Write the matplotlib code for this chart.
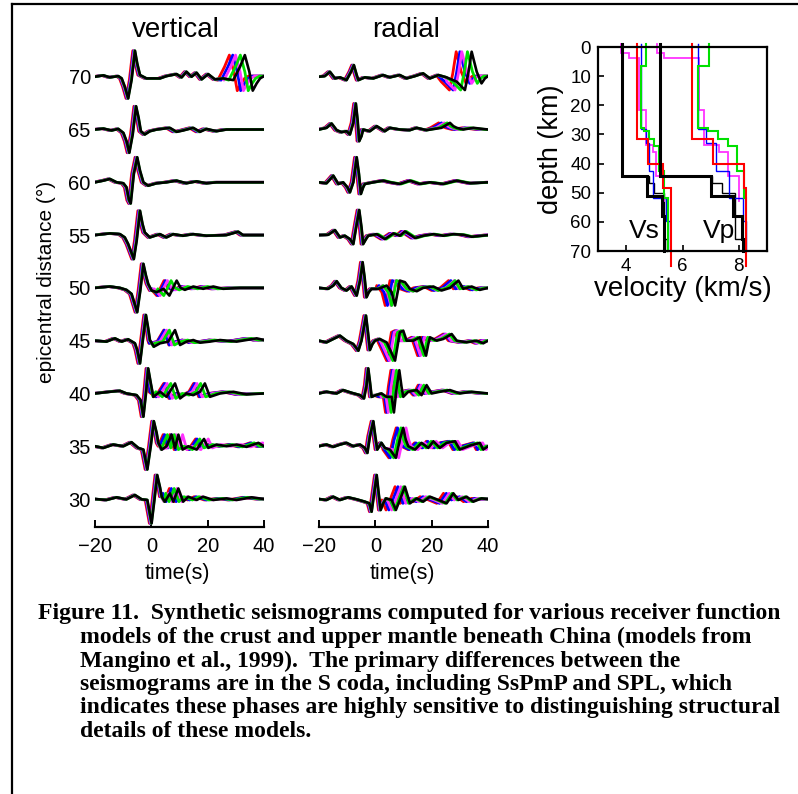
import numpy as np
import matplotlib

matplotlib.use("Agg")
import matplotlib.pyplot as plt
from matplotlib.lines import Line2D

plt.rcParams["font.family"] = ["Liberation Sans", "DejaVu Sans"]

W, H = 798, 794

DIST = [70, 65, 60, 55, 50, 45, 40, 35, 30]
COLOR_ORDER = ["red", "blue", "magenta", "green"]
COLORS = {"red": "#ff0000", "blue": "#0000ff", "magenta": "#ff33ff", "green": "#00e000", "black": "#000000"}
DIRECT_LAG = {"red": -0.8, "blue": -0.5, "magenta": -0.3, "green": -0.1}

# vertical component, reference (black) model: breakpoints (time s, amplitude deg)
VERT_T = {
    70: [-20, -17.0, -14.7, -11.7, -10.5, -9.4, -8.2, -7.0, -5.8, -5.0, -4.0, -1.7, 3.1, 5.4, 9.0, 10.8, 12.5, 14.3, 16.1, 17.9, 20.2, 22.6, 25.5, 29.1, 31.5, 33.2, 34.8, 36.0, 37.4, 38.6, 40],
    65: [-20, -17.0, -14.1, -11.7, -9.9, -8.8, -7.8, -6.6, -5.4, -4.5, -3.7, -2.3, -0.5, 1.9, 6.6, 9.0, 11.3, 14.9, 17.3, 19.6, 23.2, 26.7, 40],
    60: [-20, -17.0, -14.7, -12.3, -9.9, -8.8, -7.9, -7.3, -6.2, -5.0, -4.0, -2.8, -1.1, 1.9, 5.4, 9.0, 12.5, 16.1, 19.6, 23.2, 40],
    55: [-20, -14.7, -11.1, -9.4, -8.2, -6.2, -5.2, -4.0, -3.1, -2.3, -0.5, 3.1, 5.4, 7.8, 11.3, 14.9, 19.6, 26.7, 30.9, 32.6, 40],
    50: [-20, -14.7, -11.1, -8.8, -7.0, -5.0, -3.9, -2.8, -1.9, -1.1, 0.1, 1.9, 4.3, 6.4, 9.0, 10.4, 11.9, 14.9, 18.4, 22.0, 25.5, 31.5, 40],
    45: [-20, -15.9, -12.9, -10.5, -8.2, -5.8, -5.0, -4.0, -3.0, -1.9, -1.1, -0.5, 0.9, 3.1, 6.0, 8.4, 10.2, 12.5, 14.9, 17.3, 20.8, 24.4, 30.3, 37.4, 40],
    40: [-20, -14.7, -11.1, -8.8, -5.2, -3.8, -2.8, -1.9, -1.1, -0.2, 0.7, 3.1, 5.4, 8.4, 10.2, 12.5, 14.9, 17.3, 19.0, 20.8, 24.4, 29.1, 33.8, 40],
    35: [-20, -17.0, -13.5, -9.9, -7.0, -4.6, -2.8, -1.4, -0.2, 0.9, 1.9, 2.5, 3.7, 5.4, 7.2, 8.4, 9.6, 11.1, 13.1, 16.1, 18.7, 20.2, 23.2, 26.7, 30.3, 33.8, 38.0, 40],
    30: [-20, -15.9, -12.3, -8.8, -5.8, -3.4, -1.4, 0.1, 1.1, 2.1, 3.1, 3.7, 4.8, 6.6, 7.8, 9.6, 11.3, 13.1, 16.1, 18.4, 22.0, 26.7, 30.3, 35.6, 40],
}
VERT_A = {
    70: [0, 0.13, -0.06, 0.06, -0.16, -0.95, -2.05, -0.3, 2.46, 1.26, 0.16, -0.16, -0.16, 0.06, 0.25, -0.06, 0.47, 0, 0.38, -0.25, 0.25, -0.25, -0.16, -0.32, 0.95, 2.05, 0.47, -1.32, -0.63, -0.16, 0.06],
    65: [0, 0.09, -0.09, 0.06, -0.32, -1.1, -2.2, -0.47, 2.2, 1.1, -0.16, -0.47, -0.16, 0, 0.16, -0.22, -0.09, 0.16, -0.22, 0.06, -0.16, 0, 0],
    60: [0, 0.16, 0.32, 0, -0.09, -0.47, -1.7, -2.0, 0.8, 2.37, 1.1, 0, -0.32, -0.09, 0, 0.16, -0.09, 0.09, -0.09, 0, 0],
    55: [0, 0.16, 0.09, -0.22, -0.85, -2.27, -0.54, 2.3, 1.04, 0.25, -0.22, 0.09, -0.22, 0.09, -0.06, 0.09, -0.06, 0, 0.32, 0, 0],
    50: [0, 0.13, 0, -0.19, -0.57, -2.3, -0.25, 2.27, 1.17, 0.38, -0.25, -0.41, -0.09, -0.73, 0.69, 0, -0.19, 0.13, -0.09, 0.13, -0.09, 0, 0],
    45: [0, -0.09, 0.22, -0.09, 0.13, -0.25, -0.88, -2.15, 0.06, 2.43, 1.17, 0.06, -0.57, -0.25, -0.09, 1.0, -0.41, -0.09, 0.06, -0.19, -0.09, 0.06, -0.09, 0.22, 0.06],
    40: [0, 0.16, 0.25, 0, -0.16, -0.63, -2.2, 0.0, 2.37, 1.0, -0.32, 0.16, -0.32, 0.95, -0.47, 0, -0.16, 0.16, 0.95, -0.32, 0, 0.16, -0.09, 0],
    35: [0, -0.16, 0.16, 0, 0.38, -0.16, -0.32, -2.2, 0, 2.37, 1.26, 0.32, -0.32, 0, 1.1, -0.16, 1.1, -0.32, 0, -0.32, 0.69, -0.16, 0.16, 0, 0.16, -0.06, 0.32, 0],
    30: [0, -0.09, 0.16, -0.03, 0.38, -0.03, -0.09, -2.3, -0.09, 2.27, 1.1, 0.22, -0.25, 0.54, -0.25, 1.0, -0.25, 0.22, -0.09, 0.22, -0.09, 0.06, -0.09, 0.16, 0],
}
VERT_SPLIT = {70: 26.5, 65: 4, 60: 3, 55: 3, 50: 3, 45: 3, 40: 2.5, 35: 4.5, 30: 5.5}
# coda time lag of each model relative to black: red, blue, magenta, green
VERT_LAG = {
    70: [-5.5, -4.3, -3.3, -1.6],
    65: [-1.5, -1.0, -0.5, -0.3],
    60: [-1.2, -0.8, -0.4, -0.2],
    55: [-1.2, -0.8, -0.4, -0.2],
    50: [-4.5, -4.0, -3.3, -2.0],
    45: [-4.0, -3.8, -3.0, -2.0],
    40: [-4.0, -3.6, -2.8, -1.5],
    35: [-3.0, -2.5, 1.5, -1.5],
    30: [-3.2, -2.5, -0.5, -1.5],
}

# radial component
RAD_T = {
    70: [-20, -17.9, -16.1, -14.3, -12.5, -10.2, -8.6, -7.6, -6.6, -6.0, -3.7, -0.7, 2.8, 5.2, 8.7, 11.1, 14.1, 17.0, 19.4, 22.4, 25.3, 28.9, 31.8, 33.0, 34.2, 36.0, 37.7, 38.9, 40],
    65: [-20, -17.3, -15.5, -13.7, -12.0, -10.2, -9.0, -7.8, -6.9, -6.3, -5.7, -4.9, -4.3, -1.9, 0.5, 3.4, 5.2, 8.7, 12.3, 14.7, 18.2, 23.5, 26.5, 27.7, 28.9, 31.2, 34.8, 40],
    60: [-20, -17.3, -15.9, -14.9, -13.1, -11.4, -9.9, -9.0, -7.8, -6.6, -5.8, -5.1, -4.3, -3.7, -0.7, 2.8, 5.2, 8.7, 12.3, 15.8, 19.4, 24.1, 28.9, 33.6, 40],
    55: [-20, -16.7, -15.5, -14.3, -12.5, -10.8, -9.0, -7.8, -6.6, -5.7, -4.9, -4.3, -3.3, -2.5, 0.5, 3.4, 6.4, 8.7, 10.5, 14.1, 17.0, 20.6, 24.1, 27.7, 31.2, 34.2, 40],
    50: [-20, -16.7, -14.9, -13.7, -12.0, -10.2, -8.4, -6.6, -5.4, -4.5, -3.8, -3.1, -2.3, -1.3, 1.1, 4.0, 5.8, 7.0, 7.8, 8.7, 10.5, 12.3, 14.7, 17.0, 20.6, 23.5, 26.5, 29.5, 31.2, 34.2, 37.1, 40],
    45: [-20, -17.3, -14.9, -12.5, -10.2, -7.8, -6.0, -4.9, -3.3, -2.6, -1.9, -1.0, -0.1, 1.6, 4.0, 5.4, 7.0, 7.8, 8.7, 9.9, 11.1, 13.5, 15.8, 17.0, 18.0, 18.8, 19.4, 21.8, 24.1, 27.1, 28.9, 32.4, 36.0, 38.3, 40],
    40: [-20, -17.3, -13.7, -11.4, -8.4, -5.4, -4.0, -3.1, -2.5, -1.9, -1.3, 0.2, 2.2, 4.0, 5.8, 6.6, 7.6, 8.5, 9.3, 9.9, 11.7, 14.7, 16.4, 18.2, 20.0, 22.9, 26.5, 30.0, 34.2, 40],
    35: [-20, -17.3, -14.9, -12.5, -10.2, -7.8, -5.4, -3.7, -2.8, -1.9, -0.7, 0.0, 0.7, 2.2, 3.4, 5.2, 7.3, 8.7, 9.9, 10.8, 11.7, 14.1, 16.4, 18.8, 20.6, 22.9, 25.3, 28.3, 30.0, 33.6, 37.1, 38.3, 40],
    30: [-20, -17.3, -14.9, -12.5, -9.6, -6.6, -3.7, -2.1, -1.3, -0.4, 0.5, 1.2, 1.9, 2.8, 3.8, 5.8, 7.3, 8.7, 10.5, 12.3, 14.7, 17.0, 19.4, 22.4, 25.3, 27.7, 29.5, 32.4, 34.8, 37.7, 40],
}
RAD_A = {
    70: [0, 0.06, 0.47, -0.16, -0.06, -0.32, 0.47, 1.1, 0.16, -0.32, -0.06, -0.16, 0.16, -0.06, 0.16, -0.16, 0.06, 0.32, -0.16, 0.16, -0.06, -0.47, -1.26, 0.32, 2.37, 0.47, -0.63, -0.16, 0.06],
    65: [0, 0.16, 0.57, -0.06, -0.25, -0.16, -0.47, 0.63, 2.46, 0.95, -1.1, -0.63, 0, -0.16, 0.32, -0.16, 0.16, 0, -0.06, 0.16, -0.06, 0.16, 0.63, 0.32, 0.16, 0, 0.16, 0],
    60: [0, -0.09, 0.32, 0.63, -0.16, 0, -0.47, -0.95, 0, 2.37, 0.79, -1.1, -0.47, -0.16, 0, 0.16, 0, -0.16, 0.16, -0.16, 0, -0.16, 0.16, -0.09, 0],
    55: [0, 0.03, 0.25, 0.47, -0.22, -0.06, -0.38, -0.85, 1.04, 2.37, 0.73, -0.85, -0.38, -0.06, 0.09, -0.38, 0.16, -0.06, 0.35, -0.28, -0.06, 0.09, -0.06, 0.09, 0.03, -0.16, 0],
    50: [0, -0.09, 0.22, 0.63, 0, -0.25, 0.13, -0.73, 0.69, 2.43, 1.0, -0.88, -0.41, -0.09, -0.09, 0.22, -0.41, -1.67, -0.57, 0.69, 0.54, -0.09, -0.32, 0, 0.13, -0.25, 0, 0.69, -0.09, 0.13, -0.19, 0],
    45: [0, -0.16, 0.16, 0.47, 0, -0.32, -0.95, 0, 2.37, 0.79, -0.88, -0.32, 0, 0.16, -0.16, -0.95, -1.89, -0.63, 0.79, 0.95, 0, 0, 0.32, -0.63, -1.42, -0.32, 0.32, 0, 0.16, 0.63, 0, -0.16, 0, -0.25, 0],
    40: [0, 0.16, 0, 0.32, 0.06, -0.16, -0.47, 0.79, 2.37, 1.1, -0.32, -0.16, 0, -0.32, -0.32, -1.8, 0.63, 2.2, 0.63, -0.32, 0.16, 0.32, -0.16, 0.79, 0, 0.16, 0.32, 0, 0.16, 0],
    35: [0, 0.16, -0.06, 0.16, 0.32, 0, 0.16, -0.16, -0.63, 0.95, 2.37, 0.95, -0.32, 0.32, -0.16, -0.32, -1.1, 0.63, 1.74, 0.63, 0, -0.32, 0.32, -0.16, 0.47, -0.16, 0.32, 0.47, -0.32, 0.06, 0.32, -0.32, 0],
    30: [0, -0.09, 0.22, -0.09, 0.16, -0.03, -0.25, -0.41, -1.2, 0.54, 2.27, 0.54, -1.04, -0.41, 0.06, -0.09, -1.04, -0.09, 1.17, -0.41, 0.06, -0.25, 0.22, -0.09, -0.41, 0.54, -0.09, 0.22, -0.25, 0.06, 0],
}
RAD_SPLIT = {70: 26.5, 65: 21, 60: 0, 55: 0, 50: 2.5, 45: 3, 40: 3, 35: 4, 30: 4.5}
RAD_LAG = {
    70: [-5.5, -4.2, -3.5, -1.5],
    65: [-4.0, -3.0, -2.0, -1.0],
    60: [-1.0, -0.6, -0.3, 0.5],
    55: [-1.5, -1.0, -0.5, 0.5],
    50: [-3.5, -2.7, -1.5, -1.2],
    45: [-3.0, -2.4, -2.0, -0.8],
    40: [-3.0, -2.5, -2.0, -1.0],
    35: [-2.5, -2.0, 1.0, -0.8],
    30: [-3.5, -2.5, -1.5, -0.5],
}

# velocity models: layer top depths (km) and velocities (km/s)
MODELS = [
    # name, colour, line width, layer tops, Vs, Vp, bottom depth
    ("black_thin", "black", 1.0, [0, 44.2, 46.5, 50, 66], [3.84, 4.8, 5.0, 5.33, 5.45], [5.2, 7.05, 7.4, 7.85, 8.2], 70),
    ("magenta", "magenta", 1.3, [0, 2.0, 3.8, 21.5, 33.5, 36.2, 44.4], [3.8, 4.1, 4.45, 4.7, 4.95, 5.05, 5.35], [5.1, 5.35, 6.6, 6.75, 7.3, 7.6, 8.0], 53),
    ("blue", "blue", 1.0, [0, 28, 33, 42.7, 51.8, 59.8], [4.51, 4.72, 4.8, 4.97, 5.4, 5.56], [6.56, 6.85, 7.2, 7.64, 8.14, 8.26], 70),
    ("green", "green", 1.5, [0, 6.6, 27.8, 28.9, 31.6, 34.1, 42.7, 51.8], [4.70, 4.51, 4.62, 4.80, 5.0, 5.18, 5.34, 5.5], [6.95, 6.56, 6.9, 7.26, 7.62, 7.92, 8.17, 8.26], 70),
    ("red", "red", 1.5, [0, 31.6, 40, 48.4], [4.39, 4.79, 5.32, 5.58], [6.35, 7.08, 8.17, 8.26], 75),
    ("black", "black", 2.2, [0, 44.2, 51, 58, 66], [3.84, 4.75, 5.28, 5.33, 5.36], [5.2, 7.0, 7.79, 8.11, 8.16], 70),
]

CAPTION = [
    "Figure 11.  Synthetic seismograms computed for various receiver function",
    "models of the crust and upper mantle beneath China (models from",
    "Mangino et al., 1999).  The primary differences between the",
    "seismograms are in the S coda, including SsPmP and SPL, which",
    "indicates these phases are highly sensitive to distinguishing structural",
    "details of these models.",
]


def px(x, y):
    return x / W, 1 - y / H


def build(ts, amps, split, lag_d, lag_c):
    t = np.asarray(ts, float)
    a = np.asarray(amps, float)
    early = t < split
    te, ae = t[early] + lag_d, a[early]
    tl, al = t[~early] + lag_c, a[~early]
    if len(tl):
        keep = te < tl[0]
        te, ae = te[keep], ae[keep]
    tt = np.concatenate([[-22], te, tl, [42]])
    aa = np.concatenate([[a[0]], ae, al, [a[-1]]])
    return tt, aa


def seismo_panel(ax, T, A, SPLIT, LAG):
    for d in DIST:
        for i, c in enumerate(COLOR_ORDER):
            tt, aa = build(T[d], A[d], SPLIT[d], DIRECT_LAG[c], LAG[d][i])
            ax.plot(tt, d + aa, color=COLORS[c], lw=2.0, solid_joinstyle="round")
        tt, aa = build(T[d], A[d], SPLIT[d], 0, 0)
        ax.plot(tt, d + aa, color="black", lw=1.9, solid_joinstyle="round")
    ax.set_xlim(-20, 40)
    ax.set_ylim(27.35, 74.0)
    for s in ("top", "right", "left"):
        ax.spines[s].set_visible(False)
    ax.spines["bottom"].set_linewidth(1.6)
    ax.set_xticks([-20, 0, 20, 40])
    ax.tick_params(axis="x", direction="in", length=5, width=1.4, labelsize=14.5, pad=7)
    ax.set_yticks(DIST)
    ax.tick_params(axis="y", length=0, labelsize=14.5, pad=3)


fig = plt.figure(figsize=(W / 100, H / 100), dpi=100)

ax_v = fig.add_axes([95 / W, 1 - 527 / H, 169 / W, (527 - 34.5) / H])
seismo_panel(ax_v, VERT_T, VERT_A, VERT_SPLIT, VERT_LAG)

ax_r = fig.add_axes([319 / W, 1 - 527 / H, 169 / W, (527 - 34.5) / H])
seismo_panel(ax_r, RAD_T, RAD_A, RAD_SPLIT, RAD_LAG)
ax_r.set_yticklabels([])

fig.text(*px(176, 30), "vertical", ha="center", va="center", fontsize=20)
fig.text(*px(406, 30), "radial", ha="center", va="center", fontsize=20)
fig.text(*px(177, 573), "time(s)", ha="center", va="center", fontsize=15.5)
fig.text(*px(402, 573), "time(s)", ha="center", va="center", fontsize=15.5)
fig.text(*px(46, 282), "epicentral distance (°)", ha="center", va="center",
         rotation=90, fontsize=15)

# velocity-depth profiles
ax_m = fig.add_axes([598 / W, 1 - 251 / H, 169 / W, 204 / H])
for name, col, lw, tops, vs, vp, bottom in MODELS:
    z = np.repeat(tops + [bottom], 2)[1:-1]
    z[0] = -1.0
    for vel in (vs, vp):
        ax_m.plot(np.repeat(vel, 2), z, color=COLORS[col], lw=lw, clip_on=False,
                  solid_joinstyle="miter")
ax_m.set_xlim(3, 9)
ax_m.set_ylim(70, 0)
ax_m.set_xticks([4, 6, 8])
ax_m.set_yticks(range(0, 71, 10))
ax_m.tick_params(direction="in", length=4, width=1.2, labelsize=13.5, pad=5)
for s in ax_m.spines.values():
    s.set_linewidth(1.6)
ax_m.set_xlabel("velocity (km/s)", fontsize=20, labelpad=1)
ax_m.set_ylabel("depth (km)", fontsize=19.5, labelpad=4)
ax_m.text(4.65, 63, "Vs", fontsize=19, ha="center", va="center")
ax_m.text(7.3, 63, "Vp", fontsize=19, ha="center", va="center")

# caption
cap_y = [614, 637.5, 661, 684.5, 708, 731.5]
for i, line in enumerate(CAPTION):
    x0 = 38 if i == 0 else 80
    fig.text(*px(x0, cap_y[i]), line, ha="left", va="center", fontsize=17,
             family=["Liberation Serif", "DejaVu Serif"], weight="bold")

# page frame (only top and left edges are visible)
fig.add_artist(Line2D([11.5 / W, 1.0], [1 - 3.5 / H, 1 - 3.5 / H], color="black", lw=1.6))
fig.add_artist(Line2D([11.5 / W, 11.5 / W], [1 - 3.5 / H, 0.0], color="black", lw=1.6))

fig.savefig("out.png", dpi=100)
